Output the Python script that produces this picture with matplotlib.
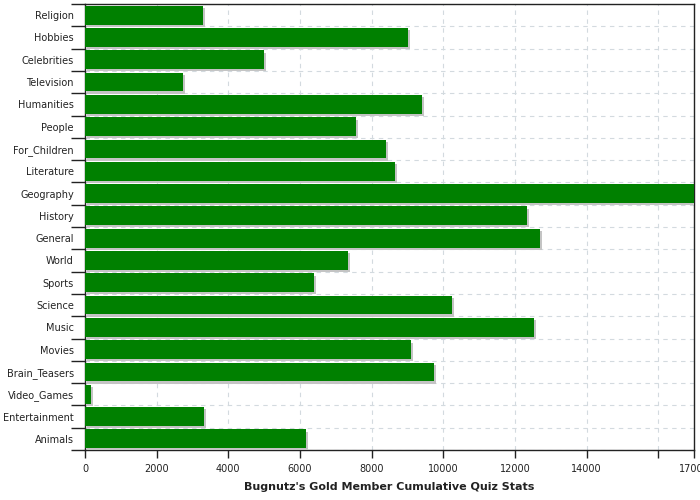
import matplotlib
matplotlib.use("Agg")
import matplotlib.pyplot as plt
import matplotlib.patheffects as pe
import numpy as np

categories = ["Religion", "Hobbies", "Celebrities", "Television", "Humanities",
              "People", "For_Children", "Literature", "Geography", "History",
              "General", "World", "Sports", "Science", "Music", "Movies",
              "Brain_Teasers", "Video_Games", "Entertainment", "Animals"]
values = [3300, 9020, 5000, 2740, 9410, 7560, 8400, 8660, 17000, 12340,
          12700, 7340, 6390, 10250, 12540, 9100, 9740, 170, 3320, 6170]
xticks = [0, 2000, 4000, 6000, 8000, 10000, 12000, 14000, 16000, 17000]
xticklabels = ["0", "2000", "4000", "6000", "8000", "10000", "12000", "14000", "", "17000"]
xlabel = "Bugnutz's Gold Member Cumulative Quiz Stats"

fig = plt.figure(figsize=(7, 5), dpi=100)
ax = fig.add_axes([85/700, 50/500, 609/700, 446/500])

n = len(categories)
y = np.arange(n)[::-1]
bars = ax.barh(y, values, height=0.84, color="#008000", zorder=3)
for b in bars:
    b.set_path_effects([pe.SimplePatchShadow(offset=(1.6, -1.6), shadow_rgbFace="#c4c4c4", alpha=1.0), pe.Normal()])

ax.set_xlim(0, 17000)
ax.set_ylim(-0.5, n - 0.5)

# category labels at centers, ticks at boundaries
ax.set_yticks(y)
ax.set_yticklabels(categories, fontsize=7, color="#222222")
ax.tick_params(axis="y", which="major", length=0, pad=8)
ax.set_yticks(np.arange(-0.5, n, 1.0), minor=True)
ax.tick_params(axis="y", which="minor", length=10, width=1.0, color="#222222")

ax.set_xticks(xticks)
ax.set_xticklabels(xticklabels, fontsize=7, color="#222222")
ax.tick_params(axis="x", length=6, width=1.0, color="#222222", pad=4)
for lbl in ax.get_xticklabels():
    lbl.set_clip_on(False)

ax.grid(True, axis="x", which="major", linestyle=(0, (4, 4)), color="#d3dadf", linewidth=0.8, zorder=0)
ax.grid(True, axis="y", which="minor", linestyle=(0, (4, 4)), color="#d3dadf", linewidth=0.8, zorder=0)
ax.set_axisbelow(True)

for s in ax.spines.values():
    s.set_color("#222222")
    s.set_linewidth(1.0)

ax.set_xlabel(xlabel, fontsize=8, fontweight="bold", color="#222222", labelpad=6)

fig.savefig("out.png", dpi=100)
